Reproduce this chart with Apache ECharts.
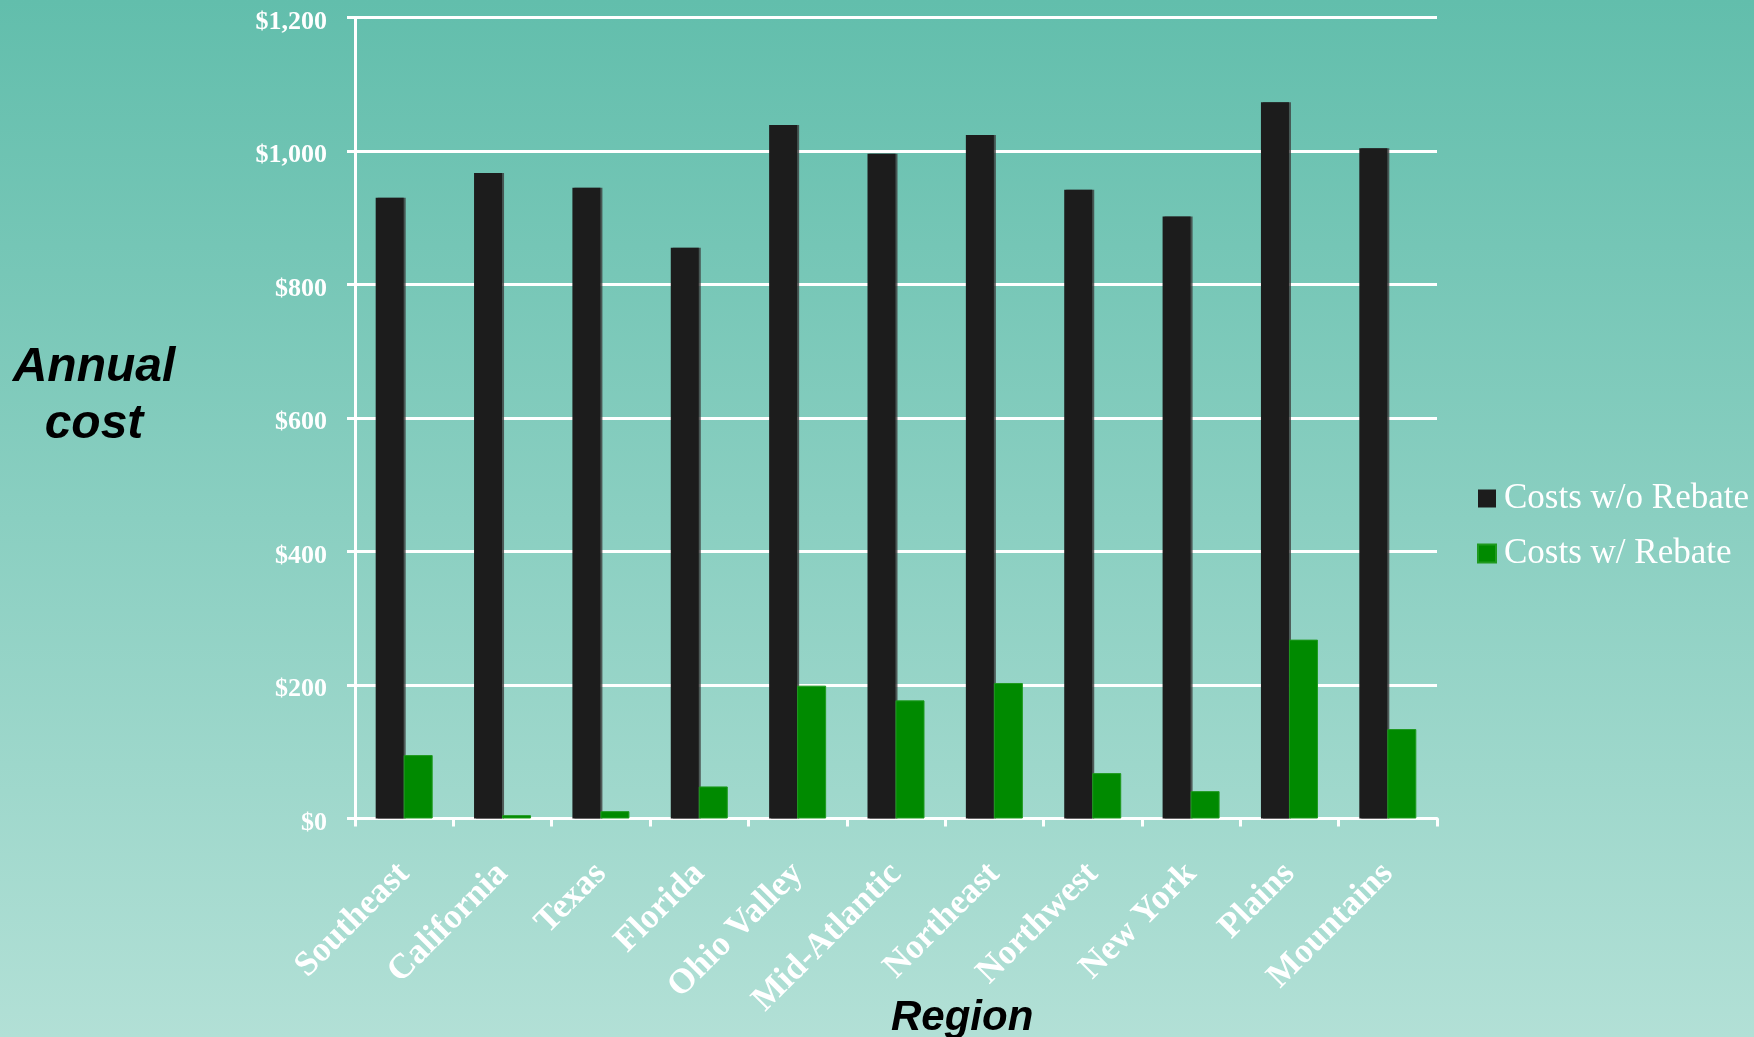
<!DOCTYPE html>
<html>
<head>
<meta charset="utf-8">
<script src="https://cdn.jsdelivr.net/npm/echarts@6/dist/echarts.min.js"></script>
<style>
html,body{margin:0;padding:0;width:1754px;height:1037px;overflow:hidden;}
#chart{width:1754px;height:1037px;}
</style>
</head>
<body>
<div id="chart"></div>
<script>
const categories = ['Southeast','California','Texas','Florida','Ohio Valley','Mid-Atlantic','Northeast','Northwest','New York','Plains','Mountains'];
const costsNoRebate = [930, 967, 945, 855, 1039, 996, 1024, 942, 902, 1073, 1004];
const costsRebate = [95, 5, 11, 48, 199, 177, 203, 68, 41, 268, 134];
const seriesNames = ['Costs w/o Rebate', 'Costs w/ Rebate'];
const yTicks = [0, 200, 400, 600, 800, 1000, 1200];

const chart = echarts.init(document.getElementById('chart'));
const serif = '"Liberation Serif", "Times New Roman", serif';
const sans = '"Liberation Sans", Arial, sans-serif';

chart.setOption({
  backgroundColor: new echarts.graphic.LinearGradient(0, 0, 0, 1, [
    {offset: 0, color: '#62BEAC'},
    {offset: 1, color: '#B2E0D6'}
  ]),
  animation: false,
  grid: {left: 355, right: 317, top: 17, bottom: 218.5, containLabel: false},
  legend: {
    orient: 'vertical',
    left: 1472,
    top: 476,
    itemWidth: 18,
    itemHeight: 18,
    itemGap: 20,
    icon: 'rect',
    data: seriesNames,
    textStyle: {color: '#FFFFFF', fontFamily: serif, fontSize: 35, padding: [0,0,0,3]}
  },
  xAxis: {
    type: 'category',
    data: categories,
    axisLine: {lineStyle: {color: '#FFFFFF', width: 3}},
    axisTick: {show: true, length: 8, lineStyle: {color: '#FFFFFF', width: 3}},
    axisLabel: {
      rotate: 45, margin: 50, interval: 0,
      color: '#FFFFFF', fontFamily: serif, fontWeight: 'bold', fontSize: 35
    },
    splitLine: {show: false}
  },
  yAxis: {
    type: 'value',
    min: 0, max: 1200, interval: 200,
    axisLine: {show: true, lineStyle: {color: '#FFFFFF', width: 3}},
    axisTick: {show: true, length: 8, lineStyle: {color: '#FFFFFF', width: 3}},
    axisLabel: {
      margin: 28,
      color: '#FFFFFF', fontFamily: serif, fontWeight: 'bold', fontSize: 26,
      formatter: v => yTicks.includes(v) ? '{v|$' + v.toLocaleString('en-US') + '}' : '',
      rich: {
        v: {color: '#FFFFFF', fontFamily: serif, fontWeight: 'bold', fontSize: 26,
            lineHeight: 26, padding: [9, 0, 0, 0]}
      }
    },
    splitLine: {show: true, lineStyle: {color: '#FFFFFF', width: 3}}
  },
  series: [
    {
      name: seriesNames[0], type: 'bar', data: costsNoRebate,
      barWidth: 28, barGap: '0%',
      itemStyle: {color: '#1C1C1C',
        shadowColor: 'rgba(60,60,60,0.8)', shadowOffsetX: 2, shadowBlur: 0}
    },
    {
      name: seriesNames[1], type: 'bar', data: costsRebate,
      barWidth: 29,
      itemStyle: {color: '#008A00', borderColor: '#1F9A1F', borderWidth: 1}
    }
  ],
  graphic: [
    {type: 'text', left: 94 - 85, top: 339,
      style: {text: 'Annual\ncost', fill: '#000000', font: 'italic bold 48px ' + sans,
        textAlign: 'center', lineHeight: 57, width: 170}},
    {type: 'text', left: 891, top: 997,
      style: {text: 'Region', fill: '#000000', font: 'italic bold 42px ' + sans}}
  ]
});
</script>
</body>
</html>
